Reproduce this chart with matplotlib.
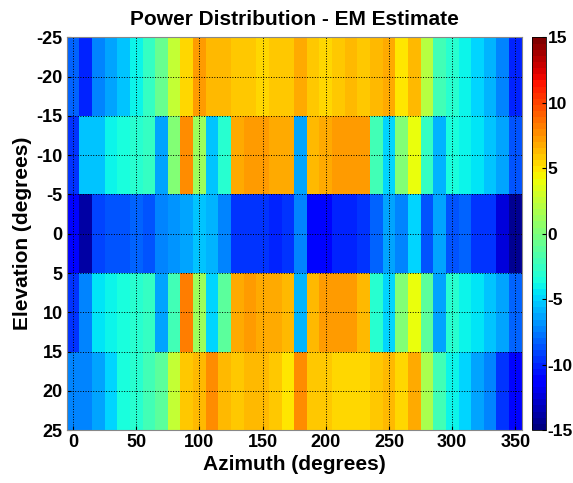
import numpy as np
import matplotlib
matplotlib.use('Agg')
import matplotlib.pyplot as plt

plt.rcParams['font.family'] = ['Liberation Sans', 'DejaVu Sans']
plt.rcParams['font.weight'] = 'bold'
plt.rcParams['axes.unicode_minus'] = False

# Griglia: azimuth 0..350 (step 10), elevation -20..20 (step 10)
azimuth = np.arange(0, 360, 10)
elevation = np.array([-20, -10, 0, 10, 20])

# Potenza stimata (dB), una riga per elevazione
p_m20 = [-8.0, -10.3, -7.5, -6.5, -5.3, -4.0, -2.4, -0.6, 2.8, 5.6,
         7.2, 6.4, 6.2, 5.9, 5.9, 5.6, 6.0, 5.7, 7.0, 5.7,
         5.6, 5.8, 6.2, 5.8, 6.4, 7.0, 4.8, 6.4, 1.9, -1.9,
         -3.0, -4.0, -5.0, -6.0, -7.5, -10.3]
p_m10 = [-9.8, -5.3, -5.3, -4.0, -3.5, -3.0, -2.5, -6.5, 0.0, 7.9,
         1.0, -5.3, -3.0, 7.0, 7.2, 7.2, 6.9, 6.6, -6.2, 6.2,
         6.9, 7.2, 7.2, 7.2, -1.9, -4.7, 0.0, 4.2, -2.5, -6.0,
         -3.5, -4.0, -4.5, -5.6, -6.5, -8.5]
p_0 = [-10.8, -14.0, -9.0, -8.5, -8.5, -8.0, -8.5, -7.5, -7.0, -6.2,
       -5.6, -6.0, -7.5, -9.4, -9.4, -9.8, -10.3, -9.8, -7.5, -10.8,
       -11.2, -10.3, -10.3, -9.4, -8.0, -6.5, -7.5, -5.0, -8.5, -6.5,
       -8.5, -8.0, -9.8, -9.4, -12.5, -14.5]
p_10 = [-9.8, -7.5, -4.5, -4.0, -3.75, -3.0, -2.5, -6.5, -1.9, 8.4,
        1.0, -5.0, -1.4, 6.9, 7.2, 7.0, 6.9, 6.2, -5.8, 6.2,
        7.2, 7.2, 7.2, 6.4, -3.0, -5.0, 0.0, 4.2, -1.4, -6.2,
        -3.0, -4.0, -4.5, -5.6, -6.2, -8.0]
p_20 = [-7.5, -7.5, -6.5, -5.0, -3.75, -3.0, -1.9, -1.0, 2.8, 5.8,
        6.4, 7.5, 6.4, 6.0, 6.2, 6.2, 5.8, 5.0, 7.5, 5.8,
        5.8, 5.6, 5.6, 5.6, 6.0, 6.4, 5.3, 6.6, 1.5, -1.9,
        -4.0, -5.0, -6.2, -7.5, -9.4, -10.8]

P = np.array([p_m20, p_m10, p_0, p_10, p_20])

fig = plt.figure(figsize=(5.73, 4.83), dpi=100)
ax = fig.add_axes([0.1164, 0.1097, 0.7941, 0.8127])
cax = fig.add_axes([0.928, 0.1097, 0.025, 0.8127])

mesh = ax.pcolormesh(azimuth, elevation, P, shading='nearest',
                     cmap=plt.get_cmap('jet', 64), vmin=-15, vmax=15)
ax.set_xlim(-5, 355)
ax.set_ylim(25, -25)

ax.set_xticks(np.arange(0, 351, 50))
ax.set_yticks(np.arange(-25, 26, 5))
ax.tick_params(direction='in', length=3, labelsize=13, pad=3)
ax.grid(True, color='black', linestyle=':', linewidth=0.7)
for s in ax.spines.values():
    s.set_color('#888888')

ax.set_xlabel('Azimuth (degrees)', fontsize=15, fontweight='bold', labelpad=3)
ax.set_ylabel('Elevation (degrees)', fontsize=15, fontweight='bold', labelpad=3)
ax.set_title('Power Distribution - EM Estimate', fontsize=15, fontweight='bold', pad=9)

cb = fig.colorbar(mesh, cax=cax, ticks=np.arange(-15, 16, 5))
cb.ax.tick_params(direction='in', length=3, labelsize=12.5, pad=1)
cb.outline.set_linewidth(0.6)

plt.savefig('out.png', dpi=100)
